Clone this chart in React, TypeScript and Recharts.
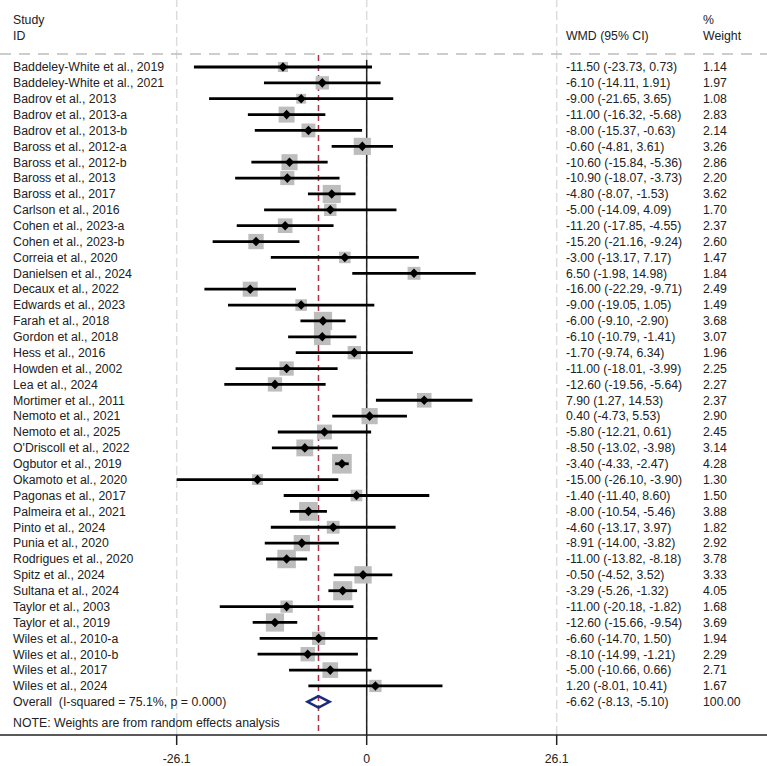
import { ScatterChart, Scatter, XAxis, YAxis, ReferenceLine } from "recharts"

const studies = [
  "Baddeley-White et al., 2019",
  "Baddeley-White et al., 2021",
  "Badrov et al., 2013",
  "Badrov et al., 2013-a",
  "Badrov et al., 2013-b",
  "Baross et al., 2012-a",
  "Baross et al., 2012-b",
  "Baross et al., 2013",
  "Baross et al., 2017",
  "Carlson et al., 2016",
  "Cohen et al., 2023-a",
  "Cohen et al., 2023-b",
  "Correia et al., 2020",
  "Danielsen et al., 2024",
  "Decaux et al., 2022",
  "Edwards et al., 2023",
  "Farah et al., 2018",
  "Gordon et al., 2018",
  "Hess et al., 2016",
  "Howden et al., 2002",
  "Lea et al., 2024",
  "Mortimer et al., 2011",
  "Nemoto et al., 2021",
  "Nemoto et al., 2025",
  "O'Driscoll et al., 2022",
  "Ogbutor et al., 2019",
  "Okamoto et al., 2020",
  "Pagonas et al., 2017",
  "Palmeira et al., 2021",
  "Pinto et al., 2024",
  "Punia et al., 2020",
  "Rodrigues et al., 2020",
  "Spitz et al., 2024",
  "Sultana et al., 2024",
  "Taylor et al., 2003",
  "Taylor et al., 2019",
  "Wiles et al., 2010-a",
  "Wiles et al., 2010-b",
  "Wiles et al., 2017",
  "Wiles et al., 2024",
]

const wmd = [
  -11.5, -6.1, -9.0, -11.0, -8.0, -0.6, -10.6, -10.9, -4.8, -5.0,
  -11.2, -15.2, -3.0, 6.5, -16.0, -9.0, -6.0, -6.1, -1.7, -11.0,
  -12.6, 7.9, 0.4, -5.8, -8.5, -3.4, -15.0, -1.4, -8.0, -4.6,
  -8.91, -11.0, -0.5, -3.29, -11.0, -12.6, -6.6, -8.1, -5.0, 1.2,
]

const ciLow = [
  -23.73, -14.11, -21.65, -16.32, -15.37, -4.81, -15.84, -18.07, -8.07, -14.09,
  -17.85, -21.16, -13.17, -1.98, -22.29, -19.05, -9.1, -10.79, -9.74, -18.01,
  -19.56, 1.27, -4.73, -12.21, -13.02, -4.33, -26.1, -11.4, -10.54, -13.17,
  -14.0, -13.82, -4.52, -5.26, -20.18, -15.66, -14.7, -14.99, -10.66, -8.01,
]

const ciHigh = [
  0.73, 1.91, 3.65, -5.68, -0.63, 3.61, -5.36, -3.73, -1.53, 4.09,
  -4.55, -9.24, 7.17, 14.98, -9.71, 1.05, -2.9, -1.41, 6.34, -3.99,
  -5.64, 14.53, 5.53, 0.61, -3.98, -2.47, -3.9, 8.6, -5.46, 3.97,
  -3.82, -8.18, 3.52, -1.32, -1.82, -9.54, 1.5, -1.21, 0.66, 10.41,
]

const weights = [
  1.14, 1.97, 1.08, 2.83, 2.14, 3.26, 2.86, 2.2, 3.62, 1.7,
  2.37, 2.6, 1.47, 1.84, 2.49, 1.49, 3.68, 3.07, 1.96, 2.25,
  2.27, 2.37, 2.9, 2.45, 3.14, 4.28, 1.3, 1.5, 3.88, 1.82,
  2.92, 3.78, 3.33, 4.05, 1.68, 3.69, 1.94, 2.29, 2.71, 1.67,
]

const pooled = { wmd: -6.62, low: -8.13, high: -5.1, weight: 100 }
const overallLabel = "Overall  (I-squared = 75.1%, p = 0.000)"
const noteLabel = "NOTE: Weights are from random effects analysis"
const xTicks = [-26.1, 0, 26.1]

const FONT = "'Liberation Sans', Arial, sans-serif"
const TEXT = "#222"
const X_DOMAIN = [-50.37, 54.99]
const ROW_DOMAIN = [-3.22, 43.09]
const OVERALL_ROW = studies.length + 1
const NOTE_ROW = studies.length + 2.3

const fmtCI = (e: number, l: number, h: number) =>
  `${e.toFixed(2)} (${l.toFixed(2)}, ${h.toFixed(2)})`

const studyRows = studies.map((name, i) => ({
  x: wmd[i],
  row: i + 1,
  weight: weights[i],
}))

// one two-point segment per study for its confidence interval
const ciSegments = studies.map((name, i) => [
  { x: ciLow[i], row: i + 1 },
  { x: ciHigh[i], row: i + 1 },
])

const textRows = [
  { x: 0, row: -2, left: "Study", mid: "", right: "%" },
  { x: 0, row: -1, left: "ID", mid: "WMD (95% CI)", right: "Weight" },
  ...studies.map((name, i) => ({
    x: 0,
    row: i + 1,
    left: name,
    mid: fmtCI(wmd[i], ciLow[i], ciHigh[i]),
    right: weights[i].toFixed(2),
  })),
  {
    x: 0,
    row: OVERALL_ROW,
    left: overallLabel,
    mid: fmtCI(pooled.wmd, pooled.low, pooled.high),
    right: pooled.weight.toFixed(2),
  },
  { x: 0, row: NOTE_ROW, left: noteLabel, mid: "", right: "" },
]

// outline of the pooled estimate, closed back on its first point
const pooledDiamond = [
  { x: pooled.low, row: OVERALL_ROW },
  { x: pooled.wmd, row: OVERALL_ROW - 0.36 },
  { x: pooled.high, row: OVERALL_ROW },
  { x: pooled.wmd, row: OVERALL_ROW + 0.36 },
  { x: pooled.low, row: OVERALL_ROW },
  { x: pooled.wmd, row: OVERALL_ROW - 0.36 },
]

const NoMarker = () => <g />

const WeightBox = (props: any) => {
  const { cx, cy, payload } = props
  const side = 9.5 * Math.sqrt(payload.weight)
  return <rect x={cx - side / 2} y={cy - side / 2} width={side} height={side} fill="#bdbdbd" />
}

const PointMarker = (props: any) => {
  const { cx, cy } = props
  const w = 4.6
  const h = 4.8
  return <polygon points={`${cx - w},${cy} ${cx},${cy - h} ${cx + w},${cy} ${cx},${cy + h}`} fill="#000" />
}

const RowText = (props: any) => {
  const { cy, payload } = props
  const style = { fontFamily: FONT, fontSize: 12.3, fill: TEXT, whiteSpace: "pre" as const }
  return (
    <g>
      <text x={13} y={cy} dy="0.35em" style={style}>{payload.left}</text>
      <text x={566} y={cy} dy="0.35em" style={style}>{payload.mid}</text>
      <text x={703} y={cy} dy="0.35em" style={style}>{payload.right}</text>
    </g>
  )
}

export default function App() {
  return (
    <div style={{ position: "absolute", left: 0, top: 0, background: "#fff" }}>
      <ScatterChart width={767} height={766} margin={{ top: 0, right: 0, bottom: 0, left: 0 }}>
        <XAxis
          type="number"
          dataKey="x"
          domain={X_DOMAIN}
          ticks={xTicks}
          allowDataOverflow
          height={31}
          tickSize={10}
          tickMargin={9}
          tick={{ fontSize: 12.3, fontFamily: FONT, fill: TEXT }}
          axisLine={{ stroke: "#222", strokeWidth: 1.5 }}
          tickLine={{ stroke: "#222", strokeWidth: 1.5 }}
          tickFormatter={(v) => String(v)}
        />
        <YAxis type="number" dataKey="row" domain={ROW_DOMAIN} reversed hide allowDataOverflow />

        {xTicks.map((t) => (
          <ReferenceLine key={t} x={t} stroke="#dcdcdc" strokeWidth={1.5} strokeDasharray="9 4" />
        ))}
        <ReferenceLine y={0.18} stroke="#bdbdbd" strokeWidth={1.5} strokeDasharray="11 8" />
        <ReferenceLine
          segment={[{ x: 0, y: 0.55 }, { x: 0, y: ROW_DOMAIN[1] }]}
          stroke="#222"
          strokeWidth={1.5}
        />
        <ReferenceLine
          segment={[{ x: pooled.wmd, y: 0.25 }, { x: pooled.wmd, y: ROW_DOMAIN[1] }]}
          stroke="#a8324a"
          strokeWidth={1.5}
          strokeDasharray="6 4"
        />

        <Scatter data={studyRows} shape={WeightBox} isAnimationActive={false} />
        {ciSegments.map((seg, i) => (
          <Scatter
            key={studies[i]}
            data={seg}
            line={{ stroke: "#000", strokeWidth: 2.8 }}
            shape={NoMarker}
            isAnimationActive={false}
          />
        ))}
        <Scatter data={studyRows} shape={PointMarker} isAnimationActive={false} />
        <Scatter
          data={pooledDiamond}
          line={{ stroke: "#1b2a7d", strokeWidth: 2.5, strokeLinejoin: "miter" }}
          shape={NoMarker}
          isAnimationActive={false}
        />
        <Scatter data={textRows} shape={RowText} isAnimationActive={false} />
      </ScatterChart>
    </div>
  )
}
